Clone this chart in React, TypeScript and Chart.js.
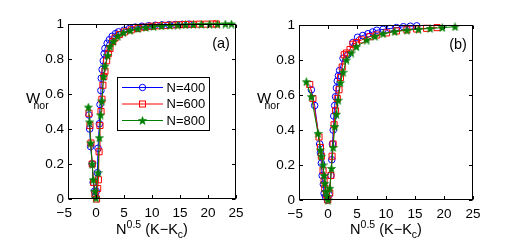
import { useEffect, useRef } from "react";
import { Chart, registerables } from "chart.js";
Chart.register(...registerables);

const xTicks = [-5, 0, 5, 10, 15, 20, 25];
const xTickLabels = ["\u22125  ", "0", "5", "10", "15", "20", "25"];
const yTicks = [0, 0.2, 0.4, 0.6, 0.8, 1];
const yTickLabels = ["0", "0.2", "0.4", "0.6", "0.8", "1"];
const seriesLabels = ["N=400", "N=600", "N=800"];
const seriesColors = ["#0000ff", "#ff0000", "#008000"];
const panelLabels = ["(a)", "(b)"];

// Panel (a)
const xA400 = [-1.25, -1.14, -0.96, -0.67, -0.5, -0.27, -0.1, 0.05, 0.25, 0.36, 0.6, 0.72, 0.88, 0.95, 1.1, 1.3, 1.46, 1.6, 2.0, 2.4, 2.9, 3.5, 4.0, 5.0, 6.0, 7.0, 8.2, 9.4, 10.6, 11.8, 13.0, 14.2, 15.4, 16.6];
const yA400 = [0.48, 0.40, 0.30, 0.20, 0.095, 0.044, 0.015, 0.044, 0.15, 0.29, 0.43, 0.54, 0.62, 0.69, 0.74, 0.79, 0.83, 0.86, 0.89, 0.91, 0.93, 0.945, 0.955, 0.965, 0.975, 0.982, 0.987, 0.99, 0.993, 0.995, 0.996, 0.997, 0.998, 0.999];
const xA600 = [-1.25, -1.08, -0.9, -0.67, -0.45, -0.2, 0.1, 0.3, 0.43, 0.55, 0.71, 0.9, 1.06, 1.23, 1.4, 1.6, 1.9, 2.2, 2.5, 3.0, 3.4, 4.2, 5.1, 6.3, 7.5, 8.7, 9.9, 11.1, 12.4, 13.6, 14.8, 16.0, 17.3, 18.5, 19.7, 20.9, 21.5];
const yA600 = [0.49, 0.42, 0.32, 0.20, 0.095, 0.03, 0.0, 0.06, 0.11, 0.27, 0.42, 0.5, 0.57, 0.65, 0.7, 0.73, 0.79, 0.83, 0.86, 0.9, 0.92, 0.94, 0.955, 0.967, 0.975, 0.982, 0.987, 0.99, 0.992, 0.994, 0.996, 0.997, 0.998, 0.999, 0.999, 1.0, 1.0];
const xA800 = [-1.37, -1.13, -0.96, -0.67, -0.5, -0.2, 0.0, 0.36, 0.6, 0.83, 1.06, 1.34, 1.6, 2.1, 2.5, 3.1, 3.9, 4.9, 6.1, 7.5, 8.9, 10.3, 11.7, 13.2, 14.6, 16.0, 17.4, 18.8, 20.3, 21.7, 23.1, 24.2];
const yA800 = [0.525, 0.44, 0.32, 0.2, 0.11, 0.044, 0.005, 0.15, 0.35, 0.48, 0.56, 0.7, 0.76, 0.82, 0.87, 0.9, 0.93, 0.95, 0.963, 0.973, 0.98, 0.985, 0.989, 0.992, 0.994, 0.996, 0.997, 0.998, 0.999, 0.999, 1.0, 1.0];

// Panel (b)
const xB400 = [-2.87, -2.3, -1.43, -1.3, -1.14, -1.0, -0.8, -0.67, -0.44, -0.1, 0.2, 0.5, 0.65, 0.77, 0.9, 1.0, 1.15, 1.3, 1.45, 1.6, 1.8, 2.0, 2.6, 3.4, 4.3, 5.1, 6.0, 6.9, 7.7, 8.4, 9.5, 10.7, 11.8, 13.0, 14.2, 15.3];
const yB400 = [0.63, 0.54, 0.32, 0.27, 0.21, 0.14, 0.09, 0.038, 0.02, 0.0, 0.03, 0.14, 0.23, 0.32, 0.4, 0.48, 0.54, 0.59, 0.64, 0.68, 0.71, 0.74, 0.81, 0.83, 0.9, 0.93, 0.94, 0.95, 0.96, 0.97, 0.975, 0.98, 0.985, 0.99, 0.993, 0.995];
const xB600 = [-3.15, -2.6, -1.55, -1.3, -1.14, -0.85, -0.67, -0.56, -0.27, -0.04, 0.3, 0.5, 0.7, 0.88, 1.05, 1.3, 1.6, 1.9, 2.15, 2.45, 2.8, 3.2, 3.8, 4.3, 4.9, 5.8, 7.2, 8.4, 10.1, 11.8, 13.6, 15.3, 17.0, 18.8];
const yB600 = [0.66, 0.58, 0.36, 0.3, 0.25, 0.17, 0.11, 0.067, 0.03, 0.0, 0.04, 0.14, 0.25, 0.32, 0.43, 0.51, 0.58, 0.63, 0.7, 0.76, 0.83, 0.84, 0.86, 0.89, 0.9, 0.915, 0.933, 0.943, 0.955, 0.966, 0.972, 0.977, 0.981, 0.985];
const xB800 = [-3.73, -2.87, -1.72, -1.3, -1.14, -0.85, -0.67, -0.56, -0.38, -0.15, 0.0, 0.3, 0.6, 0.88, 1.17, 1.46, 1.75, 2.15, 2.6, 3.2, 4.0, 4.9, 6.7, 8.1, 9.5, 11.5, 13.6, 15.6, 17.6, 19.7, 21.9];
const yB800 = [0.676, 0.59, 0.38, 0.286, 0.25, 0.2, 0.14, 0.095, 0.048, 0.02, 0.0, 0.067, 0.18, 0.3, 0.42, 0.49, 0.57, 0.67, 0.73, 0.8, 0.84, 0.876, 0.914, 0.935, 0.95, 0.962, 0.97, 0.976, 0.98, 0.985, 0.99];

const panelX = [[xA400, xA600, xA800], [xB400, xB600, xB800]];
const panelY = [[yA400, yA600, yA800], [yB400, yB600, yB800]];

const FONT = '"Liberation Sans", Arial, Helvetica, sans-serif';

function starImage(color: string, size: number) {
  const c = document.createElement("canvas");
  c.width = size;
  c.height = size;
  const ctx = c.getContext("2d")!;
  const cx = size / 2, cy = size / 2 + 0.4, R = size / 2 - 0.2, r = R * 0.42;
  ctx.beginPath();
  for (let i = 0; i < 10; i++) {
    const a = -Math.PI / 2 + (i * Math.PI) / 5;
    const rad = i % 2 === 0 ? R : r;
    ctx.lineTo(cx + rad * Math.cos(a), cy + rad * Math.sin(a));
  }
  ctx.closePath();
  ctx.fillStyle = color;
  ctx.fill();
  ctx.strokeStyle = color;
  ctx.lineWidth = 0.6;
  ctx.stroke();
  return c;
}

function drawMarker(ctx: CanvasRenderingContext2D, i: number, x: number, y: number, star: HTMLCanvasElement) {
  ctx.save();
  ctx.strokeStyle = seriesColors[i];
  ctx.lineWidth = 1;
  if (i === 0) {
    ctx.beginPath();
    ctx.arc(x, y, 3.2, 0, Math.PI * 2);
    ctx.stroke();
  } else if (i === 1) {
    ctx.strokeRect(x - 3, y - 3, 6, 6);
  } else {
    ctx.drawImage(star, x - star.width / 2, y - star.height / 2);
  }
  ctx.restore();
}

function drawSegments(ctx: CanvasRenderingContext2D, segs: { t: string; s: number; dy: number }[], x: number, y: number, align: "center" | "left") {
  let total = 0;
  const widths = segs.map((g) => {
    ctx.font = `${g.s}px ${FONT}`;
    const w = ctx.measureText(g.t).width;
    total += w;
    return w;
  });
  let cx = align === "center" ? x - total / 2 : x;
  ctx.textBaseline = "alphabetic";
  ctx.textAlign = "left";
  segs.forEach((g, k) => {
    ctx.font = `${g.s}px ${FONT}`;
    ctx.fillText(g.t, cx, y + g.dy);
    cx += widths[k];
  });
}

function makeChart(canvas: HTMLCanvasElement, p: number) {
  const star = starImage(seriesColors[2], 9);
  const geom = p === 0
    ? { padRight: 9, padTop: 24, yW: 68, xH: 46 }
    : { padRight: 45, padTop: 25, yW: 49, xH: 45 };

  const datasets = seriesLabels.map((lab, i) => ({
    label: lab,
    data: panelX[p][i].map((x, k) => ({ x, y: panelY[p][i][k] })),
    borderColor: seriesColors[i],
    backgroundColor: i === 2 ? seriesColors[i] : "rgba(0,0,0,0)",
    borderWidth: 1,
    pointBorderColor: seriesColors[i],
    pointBackgroundColor: "rgba(0,0,0,0)",
    pointBorderWidth: 1,
    pointRadius: i === 0 ? 3.3 : 4.3,
    pointStyle: i === 0 ? "circle" : i === 1 ? "rect" : star,
    showLine: true,
    tension: 0,
    clip: false as any,
    order: 3 - i,
  }));

  const frame = {
    id: "frame",
    afterDatasetsDraw(chart: any) {
      const { ctx, chartArea: a } = chart;
      const xs = chart.scales.x, ys = chart.scales.y;
      ctx.save();
      ctx.strokeStyle = "#000";
      ctx.lineWidth = 1;
      const L = Math.round(a.left) + 0.5, R = Math.round(a.right) - 0.5;
      const T = Math.round(a.top) + 0.5, B = Math.round(a.bottom) - 0.5;
      ctx.strokeRect(L, T, R - L, B - T);
      const tl = 3.5;
      ctx.beginPath();
      xTicks.forEach((v) => {
        const px = Math.round(xs.getPixelForValue(v)) + 0.5;
        ctx.moveTo(px, B); ctx.lineTo(px, B - tl);
        ctx.moveTo(px, T); ctx.lineTo(px, T + tl);
      });
      yTicks.forEach((v) => {
        const py = Math.round(ys.getPixelForValue(v)) + 0.5;
        ctx.moveTo(L, py); ctx.lineTo(L + tl, py);
        ctx.moveTo(R, py); ctx.lineTo(R - tl, py);
      });
      ctx.stroke();
      ctx.restore();
    },
    afterDraw(chart: any) {
      const { ctx, chartArea: a } = chart;
      ctx.save();
      ctx.fillStyle = "#000";
      // x title
      drawSegments(ctx, [
        { t: "N", s: 14.5, dy: 0 },
        { t: "0.5", s: 10.5, dy: -6 },
        { t: " (K\u2212K", s: 14.5, dy: 0 },
        { t: "c", s: 10.5, dy: 4 },
        { t: ")", s: 14.5, dy: 0 },
      ], (a.left + a.right) / 2, 234, "center");
      // y title
      drawSegments(ctx, [{ t: "W", s: 15, dy: 0 }], a.left - 42, 103, "left");
      drawSegments(ctx, [{ t: "nor", s: 10.5, dy: 0 }], a.left - 34.5, 109, "left");
      // panel label
      ctx.font = `14.5px ${FONT}`;
      ctx.textAlign = "center";
      ctx.textBaseline = "middle";
      ctx.fillText(panelLabels[p], a.right - 15, a.top + 19.5);
      // legend
      if (p === 0) {
        const bx = 117.5, by = 77.5, bw = 92, bh = 53;
        ctx.fillStyle = "#fff";
        ctx.fillRect(bx, by, bw, bh);
        ctx.strokeStyle = "#000";
        ctx.lineWidth = 1;
        ctx.strokeRect(bx, by, bw, bh);
        seriesLabels.forEach((lab, i) => {
          const ly = 87 + i * 16.5;
          ctx.strokeStyle = seriesColors[i];
          ctx.lineWidth = 1;
          ctx.beginPath();
          ctx.moveTo(122, ly + 0.5);
          ctx.lineTo(163, ly + 0.5);
          ctx.stroke();
          drawMarker(ctx, i, 142.5, ly + 0.5, star);
          ctx.fillStyle = "#000";
          ctx.font = `13px ${FONT}`;
          ctx.textAlign = "left";
          ctx.textBaseline = "middle";
          ctx.fillText(lab, 166.5, ly + 1);
        });
      }
      ctx.restore();
    },
  };

  return new Chart(canvas, {
    type: "scatter",
    data: { datasets: datasets as any },
    plugins: [frame],
    options: {
      responsive: false,
      animation: false,
      devicePixelRatio: 1,
      layout: { padding: { left: 0, right: geom.padRight, top: geom.padTop, bottom: 0 } },
      plugins: { legend: { display: false }, tooltip: { enabled: false } },
      scales: {
        x: {
          type: "linear",
          min: -5,
          max: 25,
          grid: { display: false, drawTicks: false },
          border: { display: false },
          afterBuildTicks: (s: any) => { s.ticks = xTicks.map((v) => ({ value: v })); },
          afterFit: (s: any) => { s.height = geom.xH; },
          ticks: {
            autoSkip: false,
            maxRotation: 0,
            padding: 6.5,
            color: "#000",
            font: { family: FONT, size: 13.5 },
            callback: (_v: any, i: number) => xTickLabels[i],
          },
        },
        y: {
          type: "linear",
          min: 0,
          max: 1,
          grid: { display: false, drawTicks: false },
          border: { display: false },
          afterBuildTicks: (s: any) => { s.ticks = yTicks.map((v) => ({ value: v })); },
          afterFit: (s: any) => { s.width = geom.yW; },
          ticks: {
            autoSkip: false,
            padding: 4,
            color: "#000",
            font: { family: FONT, size: 13.5 },
            callback: (_v: any, i: number) => yTickLabels[i],
          },
        },
      },
    },
  });
}

export default function App() {
  const ref1 = useRef<HTMLCanvasElement>(null);
  const ref2 = useRef<HTMLCanvasElement>(null);
  useEffect(() => {
    const c1 = makeChart(ref1.current!, 0);
    const c2 = makeChart(ref2.current!, 1);
    return () => {
      c1.destroy();
      c2.destroy();
    };
  }, []);
  return (
    <div style={{ position: "absolute", left: 0, top: 0, width: 518, height: 245, background: "#fff" }}>
      <canvas ref={ref1} width={250} height={245} style={{ position: "absolute", left: 0, top: 0, width: 250, height: 245 }} />
      <canvas ref={ref2} width={268} height={245} style={{ position: "absolute", left: 250, top: 0, width: 268, height: 245 }} />
    </div>
  );
}
